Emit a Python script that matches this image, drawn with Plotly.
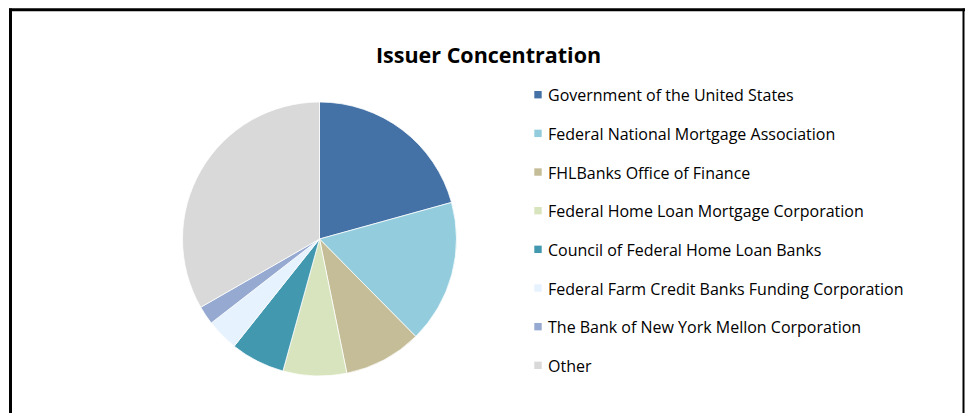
import plotly.graph_objects as go

# browser default body margin shifts the figure by 8px
OFF = 8
W, H = 973 - OFF, 413 - OFF

title = "Issuer Concentration"
labels = [
    "Government of the United States",
    "Federal National Mortgage Association",
    "FHLBanks Office of Finance",
    "Federal Home Loan Mortgage Corporation",
    "Council of Federal Home Loan Banks",
    "Federal Farm Credit Banks Funding Corporation",
    "The Bank of New York Mellon Corporation",
    "Other",
]
values = [20.7, 16.9, 9.2, 7.5, 6.4, 3.8, 2.2, 33.3]
colors = ["#4472A7", "#93CDDD", "#C4BD97", "#D7E4BD", "#4198AF", "#E6F2FD", "#95A9D1", "#D9D9D9"]

def px(x):
    return (x - OFF) / W

def py(y):
    return 1 - (y - OFF) / H

cx, cy, r = 319.5, 239.0, 137.0

fig = go.Figure()
fig.add_trace(go.Pie(
    labels=labels, values=values, sort=False, direction="clockwise", rotation=0,
    marker=dict(colors=colors, line=dict(color="white", width=0.75)),
    textinfo="none", hoverinfo="label+percent", showlegend=False,
    domain=dict(x=[px(cx - r), px(cx + r)], y=[py(cy + r), py(cy - r)]),
))

shapes = []
annotations = []
# frame
shapes.append(dict(type="line", xref="paper", yref="paper", x0=px(9), x1=px(972), y0=py(9.7), y1=py(9.7),
                   line=dict(color="black", width=3)))
shapes.append(dict(type="line", xref="paper", yref="paper", x0=px(10.5), x1=px(10.5), y0=py(8.5), y1=py(420),
                   line=dict(color="black", width=3)))
shapes.append(dict(type="line", xref="paper", yref="paper", x0=px(963.5), x1=px(963.5), y0=py(8.5), y1=py(420),
                   line=dict(color="black", width=2)))

y0, gap = 94.7, 38.66
for i, (lab, col) in enumerate(zip(labels, colors)):
    yc = y0 + i * gap
    shapes.append(dict(type="rect", xref="paper", yref="paper",
                       x0=px(534.3), x1=px(541.7), y0=py(yc + 3.7), y1=py(yc - 3.7),
                       fillcolor=col, line=dict(width=0)))
    annotations.append(dict(text=lab, xref="paper", yref="paper", x=px(546), y=py(yc + 0.5),
                            xanchor="left", yanchor="middle", showarrow=False,
                            font=dict(family="Open Sans", size=16, color="black")))

annotations.append(dict(text="<b>" + title + "</b>", xref="paper", yref="paper", x=px(488), y=py(55),
                        xanchor="center", yanchor="middle", showarrow=False,
                        font=dict(family="Open Sans", size=21.5, color="black")))

fig.update_layout(width=W, height=H, margin=dict(l=0, r=0, t=0, b=0),
                  paper_bgcolor="white", plot_bgcolor="white",
                  shapes=shapes, annotations=annotations, showlegend=False)
fig.write_html("out.html")
